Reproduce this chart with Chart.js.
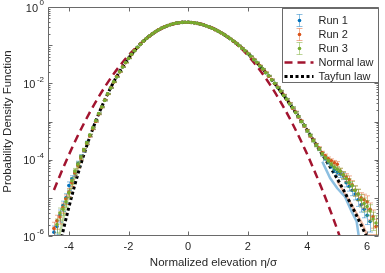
<!DOCTYPE html>
<html>
<head>
<meta charset="utf-8">
<script src="https://cdn.jsdelivr.net/npm/chart.js@4.4.1/dist/chart.umd.min.js"></script>
<style>
  html, body { margin: 0; padding: 0; background: #fff; }
</style>
</head>
<body>
<canvas id="graficoPdf" width="385" height="273"></canvas>
<script>
// bins of normalized elevation eta/sigma
const etaBins = [
  -4.5, -4.4, -4.3, -4.2, -4.1, -4.0, -3.9, -3.8, -3.7, -3.6, -3.5, -3.4, -3.3, -3.2, -3.1,
  -3.0, -2.9, -2.8, -2.7, -2.6, -2.5, -2.4, -2.3, -2.2, -2.1, -2.0, -1.9, -1.8, -1.7, -1.6,
  -1.5, -1.4, -1.3, -1.2, -1.1, -1.0, -0.9, -0.8, -0.7, -0.6, -0.5, -0.4, -0.3, -0.2, -0.1,
  0, 0.1, 0.2, 0.3, 0.4, 0.5, 0.6, 0.7, 0.8, 0.9, 1.0, 1.1, 1.2, 1.3, 1.4, 1.5, 1.6, 1.7, 1.8, 1.9,
  2.0, 2.1, 2.2, 2.3, 2.4, 2.5, 2.6, 2.7, 2.8, 2.9, 3.0, 3.1, 3.2, 3.3, 3.4, 3.5, 3.6, 3.7, 3.8, 3.9,
  4.0, 4.1, 4.2, 4.3, 4.4, 4.5, 4.6, 4.7, 4.8, 4.9, 5.0, 5.1, 5.2, 5.3, 5.4, 5.5, 5.6, 5.7, 5.8, 5.9,
  6.0, 6.1, 6.2, 6.3
];

const run1 = [
  1.26e-6, 1.78e-6, 3.55e-6, 6.3e-6, 1.0e-5, 2.09e-5, 3.16e-5, 4.47e-5, 7.94e-5, 1.2e-4, 1.74e-4, 2.82e-4, 4.27e-4, 6.6e-4, 1.02e-3,
  1.60e-3, 2.41e-3, 3.60e-3, 5.30e-3, 7.55e-3, 0.0108, 0.0148, 0.0201, 0.0267, 0.0350,
  0.0450, 0.0571, 0.0714, 0.0876, 0.1062, 0.1271, 0.1493, 0.1730, 0.1982, 0.2240,
  0.2508, 0.2760, 0.3008, 0.3235, 0.3447, 0.3628, 0.3775, 0.3880, 0.3960, 0.3985,
  0.3982, 0.3931, 0.3850, 0.3730, 0.3585, 0.3425, 0.3215, 0.3010, 0.2786, 0.2565,
  0.2335, 0.2115, 0.1895, 0.1688, 0.1488, 0.1306, 0.1135, 0.0982, 0.0838, 0.0717,
  0.0603, 0.0510, 0.0421, 0.0352, 0.0287, 0.0237, 0.0190, 0.0156, 0.0124, 0.00998,
  0.00786, 0.00625, 0.00486, 0.00382, 0.00293, 0.00228, 0.00173, 0.00133, 0.00100, 7.7e-4,
  5.7e-4, 4.3e-4, 3.2e-4, 2.4e-4,
  1.9e-4, 1.38e-4, 1.07e-4, 8.7e-5, 6.8e-5, 5.4e-5, 4.7e-5, 4.2e-5, 3.8e-5, 2.5e-5,
  2.0e-5, 1.58e-5, 1.26e-5, 8.9e-6, 6.6e-6, 5.0e-6, 3.5e-6, 2.4e-6, null, null
];

const run2 = [
  1.58e-6, 2.5e-6, 3.16e-6, 5.6e-6, 9.3e-6, 1.41e-5, 2.5e-5, 4.5e-5, 7.1e-5, 1.12e-4, 1.78e-4, 2.7e-4, 4.2e-4, 6.5e-4, 1.0e-3,
  1.57e-3, 2.38e-3, 3.63e-3, 5.22e-3, 7.66e-3, 0.0107, 0.0150, 0.0198, 0.0270, 0.0346,
  0.0455, 0.0566, 0.0719, 0.0870, 0.1068, 0.1264, 0.1500, 0.1722, 0.1990, 0.2230,
  0.2518, 0.2748, 0.3020, 0.3222, 0.3460, 0.3615, 0.3790, 0.3866, 0.3972, 0.3975,
  0.3995, 0.3920, 0.3864, 0.3718, 0.3598, 0.3412, 0.3230, 0.2998, 0.2800, 0.2550,
  0.2348, 0.2100, 0.1908, 0.1676, 0.1500, 0.1296, 0.1142, 0.0975, 0.0846, 0.0710,
  0.0610, 0.0503, 0.0428, 0.0347, 0.0292, 0.0234, 0.0194, 0.0153, 0.0126, 0.00985,
  0.00800, 0.00618, 0.00495, 0.00376, 0.00300, 0.00224, 0.00177, 0.00131, 0.00103, 7.6e-4,
  5.8e-4, 4.2e-4, 3.25e-4, 2.45e-4,
  2.0e-4, 1.51e-4, 1.26e-4, 1.05e-4, 9.3e-5, 8.3e-5, 7.6e-5, 5.0e-5, 4.0e-5, 3.5e-5,
  3.0e-5, 2.2e-5, 1.58e-5, 1.26e-5, 1.0e-5, 8.9e-6, 7.9e-6, 5.0e-6, 3.2e-6, 1.78e-6
];

const run3 = [
  null, 2.0e-6, 4.0e-6, 5.0e-6, 7.9e-6, 1.35e-5, 2.8e-5, 5.0e-5, 7.6e-5, 1.17e-4, 1.82e-4, 2.75e-4, 4.4e-4, 6.8e-4, 1.05e-3,
  1.62e-3, 2.40e-3, 3.58e-3, 5.28e-3, 7.58e-3, 0.0109, 0.0147, 0.0202, 0.0266, 0.0352,
  0.0449, 0.0574, 0.0710, 0.0880, 0.1058, 0.1275, 0.1490, 0.1735, 0.1978, 0.2245,
  0.2502, 0.2765, 0.3004, 0.3240, 0.3440, 0.3632, 0.3770, 0.3884, 0.3955, 0.3990,
  0.3978, 0.3936, 0.3846, 0.3735, 0.3580, 0.3430, 0.3210, 0.3015, 0.2780, 0.2570,
  0.2330, 0.2120, 0.1890, 0.1692, 0.1484, 0.1310, 0.1132, 0.0986, 0.0834, 0.0720,
  0.0600, 0.0513, 0.0418, 0.0355, 0.0285, 0.0239, 0.0189, 0.0158, 0.0123, 0.01005,
  0.00780, 0.00630, 0.00482, 0.00385, 0.00290, 0.00231, 0.00171, 0.00135, 9.9e-4, 7.8e-4,
  5.65e-4, 4.35e-4, 3.15e-4, 2.38e-4,
  1.9e-4, 1.41e-4, 1.12e-4, 9.3e-5, 7.6e-5, 6.3e-5, 5.6e-5, 5.0e-5, 4.0e-5, 3.2e-5,
  2.5e-5, 2.1e-5, 1.58e-5, 1.26e-5, 8.9e-6, 7.1e-6, 5.9e-6, 4.5e-6, 2.8e-6, 2.2e-6
];

// relative error of each bin (error bar half length / value)
const relErr = [
  0.45, 0.4, 0.35, 0.3, 0.28, 0.25, 0.2, 0.18, 0.15, 0.12, 0.1, 0.08, 0.07, 0.06, 0.05,
  0.045, 0.04, 0.035, 0.03, 0.028, 0.025, 0.022, 0.02, 0.018, 0.016,
  0.015, 0.014, 0.013, 0.012, 0.012, 0.011, 0.011, 0.01, 0.01, 0.01,
  0.01, 0.01, 0.01, 0.01, 0.01, 0.01, 0.01, 0.01, 0.01, 0.01,
  0.01, 0.01, 0.01, 0.01, 0.01, 0.01, 0.01, 0.01, 0.01, 0.01,
  0.01, 0.01, 0.01, 0.011, 0.011, 0.012, 0.012, 0.013, 0.014, 0.015,
  0.016, 0.018, 0.02, 0.022, 0.025, 0.028, 0.03, 0.032, 0.035, 0.038,
  0.04, 0.042, 0.045, 0.048, 0.05, 0.052, 0.055, 0.058, 0.06, 0.065,
  0.07, 0.075, 0.08, 0.085,
  0.09, 0.1, 0.11, 0.12, 0.13, 0.15, 0.17, 0.19, 0.21, 0.23,
  0.25, 0.28, 0.3, 0.33, 0.36, 0.4, 0.43, 0.47, 0.5, 0.55
];

// lower edges of the error bands (faint lines in the tails)
const lowRun1X = [4.5, 4.76, 5.0, 5.26, 5.48, 5.65, 5.72];
const lowRun1Y = [8.9e-5, 3.3e-5, 1.78e-5, 1.07e-5, 4.4e-6, 2.4e-6, 1.0e-6];
const lowRun2X = [5.0, 5.3, 5.6, 5.85, 6.0, 6.4];
const lowRun2Y = [2.8e-5, 1.12e-5, 4.5e-6, 2.0e-6, 1.05e-6, 1.05e-6];
const lowRun3X = [-3.6, -3.8, -4.0, -4.15, -4.25, -4.33];
const lowRun3Y = [1.0e-4, 3.5e-5, 1.26e-5, 4.0e-6, 1.78e-6, 1.0e-6];

const normalX = [
  -4.5, -4.25, -4, -3.75, -3.5, -3.25, -3, -2.75, -2.5, -2.25, -2, -1.75, -1.5, -1.25, -1, -0.75, -0.5, -0.25,
  0, 0.25, 0.5, 0.75, 1, 1.25, 1.5, 1.75, 2, 2.25, 2.5, 2.75, 3, 3.25, 3.5, 3.75, 4, 4.25, 4.5, 4.75, 5, 5.25
];
const normalPdf = [
  1.60e-5, 4.77e-5, 1.338e-4, 3.53e-4, 8.73e-4, 2.03e-3, 4.43e-3, 9.09e-3, 0.01753, 0.03174, 0.05399, 0.08628,
  0.1295, 0.1826, 0.2420, 0.3011, 0.3521, 0.3867, 0.3989, 0.3867, 0.3521, 0.3011, 0.2420, 0.1826, 0.1295,
  0.08628, 0.05399, 0.03174, 0.01753, 9.09e-3, 4.43e-3, 2.03e-3, 8.73e-4, 3.53e-4, 1.338e-4, 4.77e-5, 1.60e-5,
  5.04e-6, 1.487e-6, 4.13e-7
];

const tayfunX = [
  -4.4, -4.2, -4.0, -3.8, -3.6, -3.4, -3.2, -3.0, -2.8, -2.6, -2.4, -2.2, -2.0, -1.8, -1.6, -1.4, -1.2, -1.0,
  -0.8, -0.6, -0.4, -0.2, 0, 0.2, 0.4, 0.6, 0.8, 1.0, 1.2, 1.4, 1.6, 1.8, 2.0, 2.2, 2.4, 2.6, 2.8, 3.0,
  3.2, 3.4, 3.6, 3.8, 4.0, 4.2, 4.4, 4.6, 4.8, 5.0, 5.2, 5.4, 5.6, 5.8, 6.0, 6.2
];
const tayfunPdf = [
  2.5e-7, 1.29e-6, 5.68e-6, 2.2e-5, 7.57e-5, 2.31e-4, 6.35e-4, 1.585e-3, 3.61e-3, 7.62e-3, 0.01486, 0.02685,
  0.0452, 0.0716, 0.1065, 0.1497, 0.1987, 0.2513, 0.3014, 0.3453, 0.3782, 0.3966, 0.3989, 0.3857, 0.3591,
  0.3222, 0.2793, 0.2341, 0.1900, 0.1492, 0.1138, 0.0842, 0.0606, 0.0424, 0.0289, 0.0192, 0.01247, 7.91e-3,
  4.89e-3, 2.95e-3, 1.742e-3, 1.009e-3, 5.72e-4, 3.24e-4, 1.82e-4, 1.02e-4, 5.75e-5, 3.16e-5, 1.66e-5,
  8.3e-6, 4.07e-6, 1.95e-6, 9.1e-7, 4.3e-7
];

const xTicks = [-4, -2, 0, 2, 4, 6];
const yExps = [0, -2, -4, -6];

const FUENTE = "'Liberation Sans', Arial, Helvetica, sans-serif";
const TEXTO = '#262626';
Chart.defaults.font.family = FUENTE;
Chart.defaults.color = TEXTO;

const puntos = serie => etaBins
  .map((x, i) => ({ x: x, y: serie[i], e: relErr[i] }))
  .filter(p => p.y !== null);
const pares = (xs, ys) => xs.map((x, i) => ({ x: x, y: ys[i] }));

// vertical error bars with caps, drawn under each run's markers
const barrasError = {
  id: 'barrasError',
  beforeDatasetDraw(chart, args) {
    const ds = chart.data.datasets[args.index];
    if (!ds.barColor) return;
    const { ctx, chartArea: a, scales: { x, y } } = chart;
    ctx.save();
    ctx.beginPath();
    ctx.rect(a.left, a.top, a.width, a.height);
    ctx.clip();
    ctx.strokeStyle = ds.barColor;
    ctx.lineWidth = 1;
    ctx.beginPath();
    ds.data.forEach(p => {
      const px = Math.round(x.getPixelForValue(p.x)) + 0.5;
      const top = y.getPixelForValue(p.y * (1 + p.e));
      const bot = y.getPixelForValue(Math.max(p.y * (1 - p.e), 1e-9));
      ctx.moveTo(px, top); ctx.lineTo(px, bot);
      ctx.moveTo(px - 2.5, top); ctx.lineTo(px + 2.5, top);
      ctx.moveTo(px - 2.5, bot); ctx.lineTo(px + 2.5, bot);
    });
    ctx.stroke();
    ctx.restore();
  }
};

// box, inward ticks and 10^n labels
const marcoEjes = {
  id: 'marcoEjes',
  afterDatasetsDraw(chart) {
    const { ctx, chartArea: a, scales: { x, y } } = chart;
    const L = Math.round(a.left) + 0.5, R = Math.round(a.right) - 0.5;
    const T = Math.round(a.top) + 0.5, B = Math.round(a.bottom) - 0.5;
    ctx.save();
    ctx.strokeStyle = '#6a6a6a';
    ctx.lineWidth = 1;
    ctx.beginPath();
    ctx.rect(L, T, R - L, B - T);
    xTicks.forEach(v => {
      const px = Math.round(x.getPixelForValue(v)) + 0.5;
      ctx.moveTo(px, B); ctx.lineTo(px, B - 4);
      ctx.moveTo(px, T); ctx.lineTo(px, T + 4);
    });
    for (let d = -6; d <= 0; d++) {
      for (let m = 1; m <= 9; m++) {
        const v = m * Math.pow(10, d);
        if (v > 1) break;
        const py = Math.round(y.getPixelForValue(v)) + 0.5;
        const len = m === 1 ? 4 : 2;
        ctx.moveTo(L, py); ctx.lineTo(L + len, py);
        ctx.moveTo(R, py); ctx.lineTo(R - len, py);
      }
    }
    ctx.stroke();

    ctx.fillStyle = TEXTO;
    ctx.textAlign = 'right';
    ctx.textBaseline = 'middle';
    yExps.forEach(e => {
      const py = y.getPixelForValue(Math.pow(10, e));
      const exp = e === 0 ? '0' : '-' + Math.abs(e);
      ctx.font = '8px ' + FUENTE;
      const w = ctx.measureText(exp).width;
      ctx.fillText(exp, a.left - 4, py - 4);
      ctx.font = '11px ' + FUENTE;
      ctx.fillText('10', a.left - 4 - w - 1.5, py + 1.5);
    });
    ctx.restore();
  }
};

// legend box in the upper right corner
const leyenda = {
  id: 'leyenda',
  afterDraw(chart) {
    const { ctx, chartArea: a } = chart;
    const items = chart.data.datasets.filter(ds => ds.enLeyenda).sort((p, q) => p.enLeyenda - q.enLeyenda);
    const w = 96, h = 74;
    const left = Math.round(a.right) - 1 - w + 0.5, top = Math.round(a.top) + 1.5;
    ctx.save();
    ctx.fillStyle = '#fff';
    ctx.fillRect(left, top, w, h);
    ctx.strokeStyle = '#6a6a6a';
    ctx.lineWidth = 1;
    ctx.strokeRect(left, top, w, h);
    ctx.font = '11px ' + FUENTE;
    ctx.textAlign = 'left';
    ctx.textBaseline = 'middle';
    items.forEach((ds, i) => {
      const cy = top + 12 + i * 14;
      const cx = left + 17;
      if (ds.barColor) {
        ctx.strokeStyle = ds.barColor;
        ctx.beginPath();
        ctx.moveTo(cx, cy - 6); ctx.lineTo(cx, cy + 6);
        ctx.moveTo(cx - 3, cy - 6); ctx.lineTo(cx + 3, cy - 6);
        ctx.moveTo(cx - 3, cy + 6); ctx.lineTo(cx + 3, cy + 6);
        ctx.stroke();
        ctx.fillStyle = ds.backgroundColor;
        ctx.beginPath();
        ctx.arc(cx, cy, 1.8, 0, Math.PI * 2);
        ctx.fill();
      } else {
        ctx.strokeStyle = ds.borderColor;
        ctx.lineWidth = ds.borderWidth;
        ctx.setLineDash(ds.borderDash);
        ctx.beginPath();
        ctx.moveTo(left + 2, cy); ctx.lineTo(left + 31, cy);
        ctx.stroke();
        ctx.setLineDash([]);
        ctx.lineWidth = 1;
      }
      ctx.fillStyle = TEXTO;
      ctx.fillText(ds.label, left + 36, cy + 0.5);
    });
    ctx.restore();
  }
};

const ctx = document.getElementById('graficoPdf').getContext('2d');
new Chart(ctx, {
  type: 'scatter',
  data: {
    datasets: [
      {
        label: 'Run 3', data: puntos(run3), enLeyenda: 3, order: 0,
        backgroundColor: '#77AC30', barColor: 'rgba(119,172,48,0.5)',
        pointRadius: 1.8, pointBorderWidth: 0
      },
      {
        label: 'Run 2', data: puntos(run2), enLeyenda: 2, order: 1,
        backgroundColor: '#D95319', barColor: 'rgba(217,83,25,0.45)',
        pointRadius: 1.8, pointBorderWidth: 0
      },
      {
        label: 'Run 1', data: puntos(run1), enLeyenda: 1, order: 2,
        backgroundColor: '#0072BD', barColor: 'rgba(0,114,189,0.45)',
        pointRadius: 1.8, pointBorderWidth: 0
      },
      {
        label: 'Normal law', data: pares(normalX, normalPdf), enLeyenda: 4, order: 3,
        showLine: true, pointRadius: 0, borderColor: '#A2142F', borderWidth: 2.5,
        borderDash: [8, 5], cubicInterpolationMode: 'monotone'
      },
      {
        label: 'Tayfun law', data: pares(tayfunX, tayfunPdf), enLeyenda: 5, order: 4,
        showLine: true, pointRadius: 0, borderColor: '#000000', borderWidth: 3,
        borderDash: [3, 2.5], cubicInterpolationMode: 'monotone'
      },
      {
        label: 'Run 1 low', data: pares(lowRun1X, lowRun1Y), order: 5,
        showLine: true, pointRadius: 0, borderColor: 'rgba(0,114,189,0.45)', borderWidth: 2.5
      },
      {
        label: 'Run 2 low', data: pares(lowRun2X, lowRun2Y), order: 5,
        showLine: true, pointRadius: 0, borderColor: 'rgba(217,83,25,0.4)', borderWidth: 2.5
      },
      {
        label: 'Run 3 low', data: pares(lowRun3X, lowRun3Y), order: 5,
        showLine: true, pointRadius: 0, borderColor: 'rgba(119,172,48,0.45)', borderWidth: 2.5
      }
    ]
  },
  options: {
    responsive: false,
    animation: false,
    layout: { padding: { top: 7, right: 6, bottom: 0, left: 0 } },
    plugins: {
      legend: { display: false },
      tooltip: { enabled: false }
    },
    scales: {
      x: {
        type: 'linear', min: -4.7, max: 6.4,
        afterBuildTicks: s => { s.ticks = xTicks.map(v => ({ value: v })); },
        afterFit: s => { s.height = 37; },
        grid: { display: false, drawTicks: false },
        border: { display: false },
        ticks: { padding: 4, font: { size: 11 }, color: TEXTO, maxRotation: 0 },
        title: {
          display: true, text: 'Normalized elevation η/σ',
          font: { size: 11.5 }, color: TEXTO, padding: { top: 0, bottom: 3 }
        }
      },
      y: {
        type: 'logarithmic', min: 1e-6, max: 1,
        afterBuildTicks: s => { s.ticks = yExps.map(e => ({ value: Math.pow(10, e) })); },
        afterFit: s => { s.width = 48; },
        grid: { display: false, drawTicks: false },
        border: { display: false },
        ticks: { display: false },
        title: {
          display: true, text: 'Probability Density Function',
          font: { size: 11.5 }, color: TEXTO, padding: { top: 1, bottom: 0 }
        }
      }
    }
  },
  plugins: [barrasError, marcoEjes, leyenda]
});
</script>
</body>
</html>
